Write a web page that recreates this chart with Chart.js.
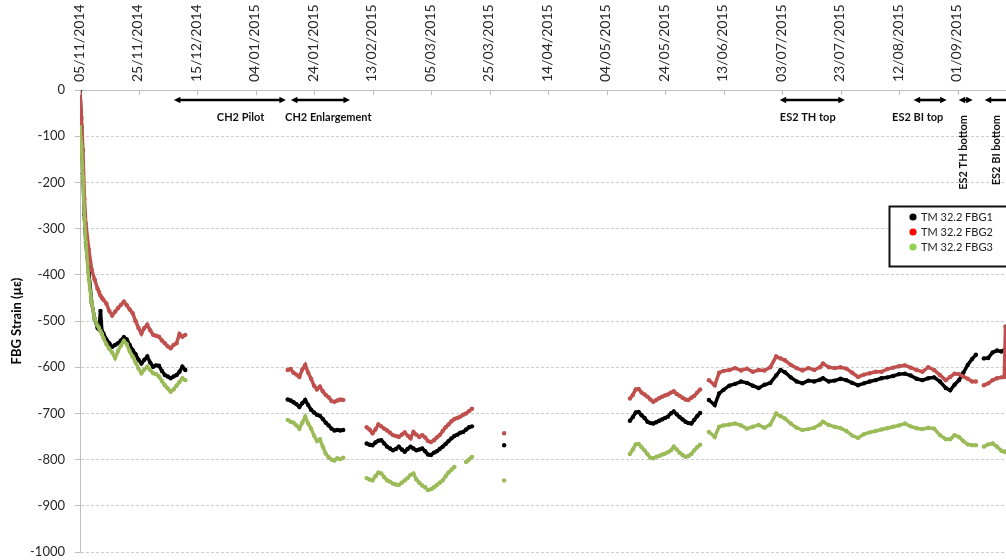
<!DOCTYPE html>
<html>
<head>
<meta charset="utf-8">
<script src="https://cdn.jsdelivr.net/npm/chart.js@4/dist/chart.umd.min.js"></script>
<style>
  html, body { margin: 0; padding: 0; background: #fff; overflow: hidden; }
  #wrap { position: relative; width: 1030px; height: 560px; }
</style>
</head>
<body>
<div id="wrap"><canvas id="strainChart"></canvas></div>
<script>
// Days since 05/11/2014 (installation); null rows break the lines between logging periods.
const days = [
  0, 0.5, 1, 1.5, 2, 3, 4, 5, 6, 6.5, 7, 7.5, 8, 9, 10, 11, 12, 13, 14, 15, 16, 17, 18, 19, 20,
  21, 22, 23, 24, 25, 26, 27, 28, 29, 30, 31, 32, 33, 34, 35, 36, 37,
  71, 72, 73, 74, 75, 76, 77, 78, 79, 80, 81, 82, 83, 84, 85, 86, 87, 88, 89, 90, 93,
  98, 99, 100, 101, 102, 103, 104, 105, 106, 107, 108, 109, 110, 111, 112, 113, 114, 115, 116, 117,
  118, 119, 120, 121, 122, 123, 124, 125, 126, 127, 128, 129, 130, 131, 132, 133, 134, 137,
  145, 150,
  188, 189, 190, 191, 192, 193, 194, 195, 196, 197, 198, 199, 200, 201, 202, 203, 204, 205, 206,
  207, 208, 209, 210, 211, 212, 213.5,
  215, 217, 218.5, 220, 222, 224, 226, 228, 230, 232, 234, 236, 238, 239.5, 241, 243, 245, 247, 249,
  251, 253, 254, 256, 258, 260, 262, 264, 266, 268, 270, 272, 274, 276, 278, 280, 282, 284, 286, 288,
  290, 292, 294, 296, 297.5, 299, 300.5, 302, 303.5, 305, 306.3, 307.5, 309, 310.5, 312, 313.5, 315,
  316, 316.4, 317, 318
];

// TM 32.2 FBG1 strain (µε)
const fbg1 = [
  -2, -80, -180, -270, -330, -395, -460, -495, -515, -518, -478, -522, -527, -540, -548, -556, -552, -548, -542, -535, -540, -552, -563, -572, -584,
  -592, -584, -577, -590, -599, -596, -597, -608, -617, -620, -624, -620, -617, -610, -599, -606, null,
  -670, -672, -676, -680, -686, -678, -671, -682, -692, -698, -703, -705, -712, -720, -726, -733, -737, -736, -737, -736, null,
  -765, -768, -769, -763, -759, -758, -765, -772, -776, -780, -777, -772, -778, -783, -777, -772, -776, -780, -778, -776,
  -782, -789, -790, -785, -782, -777, -772, -766, -760, -754, -749, -746, -742, -740, -735, -730, -728, null,
  -769, null,
  -716, -708, -698, -697, -704, -710, -718, -721, -722, -719, -716, -713, -710, -707, -700, -696, -702, -708, -713,
  -718, -721, -722, -714, -706, -699, null,
  -671, -682, -657, -649, -640, -636, -631, -634, -640, -645, -638, -634, -618, -606, -611, -622, -631, -635, -629,
  -631, -627, -624, -631, -629, -625, -628, -634, -639, -635, -631, -628, -624, -622, -619, -615, -614, -618, -625, -628,
  -624, -622, -631, -645, -650, -638, -628, -612, -595, -582, -573, null, -581, -580, -568, -564, -566,
  -563, -563, -565, -562
];

// TM 32.2 FBG2 strain (µε)
const fbg2 = [
  -6, -60, -130, -235, -290, -345, -389, -410, -430, -437, -445, -450, -454, -462, -478, -488, -480, -472, -465, -458, -466, -475, -483, -500, -515,
  -527, -515, -508, -520, -530, -532, -534, -542, -548, -555, -559, -552, -548, -528, -534, -530, null,
  -606, -604, -612, -616, -621, -605, -595, -612, -625, -640, -648, -642, -652, -660, -665, -673, -675, -672, -670, -671, null,
  -730, -735, -743, -735, -724, -728, -733, -737, -742, -747, -749, -751, -746, -741, -748, -754, -740, -746, -751, -747,
  -752, -760, -762, -758, -752, -747, -738, -730, -724, -717, -712, -710, -707, -703, -700, -695, -690, null,
  -743, null,
  -668, -660, -648, -647, -655, -659, -664, -670, -675, -671, -667, -664, -661, -659, -655, -652, -658, -662, -666,
  -670, -671, -666, -662, -655, -648, null,
  -628, -639, -612, -608, -606, -602, -607, -603, -610, -606, -607, -600, -577, -581, -585, -595, -602, -607, -602,
  -606, -600, -592, -600, -602, -600, -603, -612, -621, -616, -613, -610, -610, -604, -601, -598, -596, -601, -606, -610,
  -600, -606, -617, -628, -621, -614, -615, -620, -625, -631, -631, null, -639, -635, -628, -624, -622,
  -621, -512, -600, -605
];

// TM 32.2 FBG3 strain (µε)
const fbg3 = [
  -80, -120, -190, -280, -330, -410, -460, -495, -510, -515, -522, -528, -537, -550, -560, -568, -580, -565, -553, -543, -550, -566, -577, -590, -603,
  -613, -605, -599, -606, -613, -615, -620, -630, -639, -646, -653, -648, -640, -632, -624, -628, null,
  -714, -718, -720, -726, -733, -720, -707, -722, -733, -748, -760, -756, -772, -787, -795, -800, -802, -797, -799, -796, null,
  -840, -843, -845, -836, -828, -830, -838, -845, -848, -852, -854, -855, -850, -845, -840, -833, -830, -843, -850, -856,
  -860, -866, -864, -860, -855, -850, -845, -836, -828, -822, -816, null, null, null, -805, -800, -794, null,
  -845, null,
  -788, -778, -767, -766, -773, -780, -788, -796, -797, -794, -792, -789, -787, -784, -780, -772, -778, -785, -790,
  -794, -792, -788, -780, -773, -768, null,
  -740, -751, -729, -726, -724, -722, -726, -733, -729, -725, -731, -724, -700, -706, -711, -722, -731, -736, -734,
  -731, -724, -718, -725, -729, -732, -738, -748, -753, -745, -741, -738, -735, -732, -729, -726, -722, -728, -732, -734,
  -731, -733, -747, -756, -756, -747, -751, -760, -767, -769, -769, null, -772, -767, -765, -772, -781,
  -783, -783, -782, -782
];

const seriesNames = ['TM 32.2 FBG1', 'TM 32.2 FBG2', 'TM 32.2 FBG3'];

// Excavation phases: arrow span and label position, in days since 05/11/2014
const phaseNames = ['CH2 Pilot', 'CH2 Enlargement', 'ES2 TH top', 'ES2 BI top', 'ES2 TH bottom', 'ES2 BI bottom'];
const phaseStart = [32.1, 72.1, 239.2, 285.0, 300.4, 309.3];
const phaseEnd = [70.4, 92.3, 261.5, 296.3, 305.2, 330];
const phaseLabelDay = [54.9, 84.9, 248.8, 286.4, 301.9, 313.4];
const phaseLabelUpright = [false, false, false, false, true, true];

// Axis ticks
const dayTickStep = 20;
const dayAxisMax = 320;
const strainTickStep = 100;
const strainMin = -1000;
const strainMax = 0;

// ---- styling ----
const lineColours = ['#000000', '#c0504d', '#9bbb59'];
const legendColours = ['#000000', '#ff0000', '#92d050'];
const FONT = 'Lato, "Liberation Sans", sans-serif';
const startUTC = Date.UTC(2014, 10, 5);

function pad2(n) { return (n < 10 ? '0' : '') + n; }
function dayLabel(v) {
  const d = new Date(startUTC + v * 86400000);
  return pad2(d.getUTCDate()) + '/' + pad2(d.getUTCMonth() + 1) + '/' + d.getUTCFullYear();
}

// short tick marks hanging inside the plot from the top date axis
const innerTicks = {
  id: 'innerTicks',
  afterDraw(chart) {
    const {ctx, chartArea, scales: {x}} = chart;
    ctx.save();
    ctx.strokeStyle = '#bfbfbf';
    ctx.lineWidth = 1;
    ctx.beginPath();
    x.ticks.forEach(t => {
      const px = Math.round(x.getPixelForValue(t.value)) + 0.5;
      ctx.moveTo(px, chartArea.top);
      ctx.lineTo(px, chartArea.top + 5);
    });
    ctx.stroke();
    ctx.restore();
  }
};

// double-headed arrows with phase names under the date axis
const phaseArrows = {
  id: 'phaseArrows',
  afterDatasetsDraw(chart) {
    const {ctx, scales: {x}} = chart;
    const yArrow = 100, yText = 117, head = 6.5, half = 3.2;
    ctx.save();
    phaseNames.forEach((name, i) => {
      const x1 = x.getPixelForValue(phaseStart[i]);
      const x2 = x.getPixelForValue(phaseEnd[i]);
      ctx.fillStyle = '#000';
      ctx.strokeStyle = '#000';
      ctx.lineWidth = 2.6;
      ctx.beginPath();
      ctx.moveTo(x1 + head - 1, yArrow);
      ctx.lineTo(x2 - head + 1, yArrow);
      ctx.stroke();
      ctx.beginPath();
      ctx.moveTo(x1, yArrow); ctx.lineTo(x1 + head, yArrow - half); ctx.lineTo(x1 + head, yArrow + half); ctx.closePath();
      ctx.moveTo(x2, yArrow); ctx.lineTo(x2 - head, yArrow - half); ctx.lineTo(x2 - head, yArrow + half); ctx.closePath();
      ctx.fill();

      const lx = x.getPixelForValue(phaseLabelDay[i]);
      ctx.font = 'bold 11px ' + FONT;
      ctx.fillStyle = '#111';
      ctx.textBaseline = 'middle';
      if (phaseLabelUpright[i]) {
        ctx.save();
        ctx.translate(lx, 115);
        ctx.rotate(-Math.PI / 2);
        ctx.textAlign = 'right';
        ctx.fillText(name, 0, 0);
        ctx.restore();
      } else {
        ctx.textAlign = 'center';
        ctx.fillText(name, lx, yText);
      }
    });
    ctx.restore();
  }
};

// boxed legend inside the plot
const boxLegend = {
  id: 'boxLegend',
  afterDraw(chart) {
    const {ctx} = chart;
    const bx = 889.5, by = 206.5, bw = 140, bh = 60;
    ctx.save();
    ctx.fillStyle = '#fff';
    ctx.fillRect(bx, by, bw, bh);
    ctx.strokeStyle = '#111';
    ctx.lineWidth = 2;
    ctx.strokeRect(bx, by, bw, bh);
    ctx.font = '11px ' + FONT;
    ctx.textBaseline = 'middle';
    ctx.textAlign = 'left';
    chart.data.datasets.forEach((ds, i) => {
      const cy = 217 + i * 15;
      ctx.fillStyle = legendColours[i];
      ctx.beginPath();
      ctx.arc(913, cy, 3.6, 0, Math.PI * 2);
      ctx.fill();
      ctx.fillStyle = '#222';
      ctx.fillText(ds.label, 921, cy);
    });
    ctx.restore();
  }
};

const seriesValues = [fbg1, fbg2, fbg3];

new Chart(document.getElementById('strainChart'), {
  type: 'scatter',
  data: {
    datasets: seriesValues.map((vals, i) => ({
      label: seriesNames[i],
      data: days.map((d, j) => ({x: d, y: vals[j]})),
      showLine: true,
      spanGaps: false,
      borderColor: lineColours[i],
      backgroundColor: lineColours[i],
      borderWidth: 3.5,
      pointRadius: 2.2,
      pointBorderWidth: 0,
      pointHoverRadius: 0,
      tension: 0,
      order: 3 - i
    }))
  },
  options: {
    responsive: true,
    maintainAspectRatio: false,
    animation: false,
    events: [],
    layout: {padding: {left: 0, top: 0, right: 14, bottom: 8}},
    plugins: {
      legend: {display: false},
      tooltip: {enabled: false}
    },
    scales: {
      x: {
        type: 'linear',
        position: 'top',
        min: 0,
        max: dayAxisMax,
        afterFit(scale) {
          scale.height = 90;
          scale.paddingLeft = 0;
          scale.paddingRight = 0;
        },
        ticks: {
          stepSize: dayTickStep,
          autoSkip: false,
          minRotation: 90,
          maxRotation: 90,
          padding: 8,
          labelOffset: 16,
          color: '#262626',
          font: {family: FONT, size: 14},
          callback: v => dayLabel(v)
        },
        grid: {drawOnChartArea: false, drawTicks: false},
        border: {display: true, color: '#bfbfbf', width: 1}
      },
      y: {
        min: strainMin,
        max: strainMax,
        afterFit(scale) {
          scale.width = 80;
          scale.paddingTop = 0;
          scale.paddingBottom = 0;
        },
        ticks: {
          stepSize: strainTickStep,
          padding: 10,
          color: '#262626',
          font: {family: FONT, size: 13},
          callback: v => String(v)
        },
        grid: {color: '#cccccc', tickColor: '#bfbfbf', tickLength: 5},
        border: {display: true, color: '#bfbfbf', width: 1, dash: [3, 2]},
        title: {
          display: true,
          text: 'FBG Strain (µε)',
          color: '#000',
          font: {family: FONT, size: 13, weight: 'bold'},
          padding: {top: 9, bottom: 0}
        }
      }
    }
  },
  plugins: [innerTicks, phaseArrows, boxLegend]
});
</script>
</body>
</html>
